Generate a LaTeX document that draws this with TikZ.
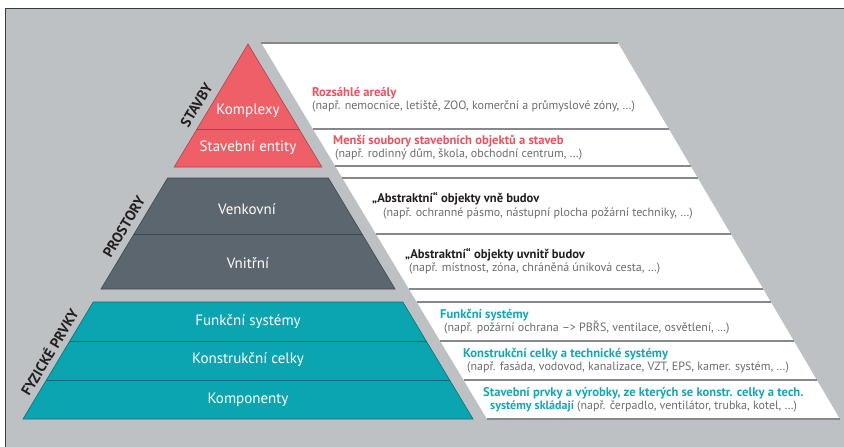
\documentclass[tikz,border=0pt]{standalone}
\usepackage{fontspec}
\setmainfont{PT Sans}
\definecolor{bggrey}{HTML}{BEC1C4}
\definecolor{framecol}{HTML}{3A3A3C}
\definecolor{rowline}{HTML}{86888B}
\definecolor{pyrred}{HTML}{EF5F68}
\definecolor{pyrredd}{HTML}{A9444A}
\definecolor{pyrgrey}{HTML}{5B666E}
\definecolor{pyrgreyd}{HTML}{3D474E}
\definecolor{pyrteal}{HTML}{0AA5B0}
\definecolor{pyrteald}{HTML}{0A6E77}
\definecolor{txtred}{HTML}{E8545E}
\definecolor{txtteal}{HTML}{17A6B3}
\definecolor{txtgrey}{HTML}{6B6D70}
\definecolor{txtdark}{HTML}{231F20}
\begin{document}
\begin{tikzpicture}[x=1pt,y=-1pt,
  rowline/.style={draw=rowline,line width=1.2pt},
  layer/.style={font=\fontsize{15}{17}\selectfont,text=white,inner sep=0pt},
  side/.style={font=\fontsize{14.5}{16}\selectfont\bfseries,text=txtdark,rotate=59,inner sep=0pt},
  head/.style={anchor=west,inner sep=0pt,font=\fontsize{12.6}{14}\selectfont\bfseries},
  note/.style={anchor=west,inner sep=0pt,text=txtgrey,font=\fontsize{12}{14}\selectfont}]
\useasboundingbox (0,0) rectangle (844,447);
\fill[white] (0,0) rectangle (844,447);
\fill[bggrey] (5,8) rectangle (844,447);
\draw[framecol,line width=0.9pt] (5,447) -- (5,8) -- (844,8);

% white slanted band holding the descriptions
\fill[white] (261.4,43) -- (618,43) -- (839.8,419) -- (487,419) -- cycle;
\foreach \y in {43,129,166,178,234,289,302,341,380,419}
  \draw[rowline] ({262+0.6*(\y-44)},\y) -- ({618+0.59*(\y-43)},\y);

% pyramid: buildings
\filldraw[fill=pyrred,draw=pyrredd,line width=0.6pt] (248,44) -- (321.8,167) -- (174.2,167) -- cycle;
\draw[pyrredd,line width=0.9pt] (197,129) -- (299,129);
% pyramid: spaces
\filldraw[fill=pyrgrey,draw=pyrgreyd,line width=0.6pt] (167.6,178) -- (328.4,178) -- (395,289) -- (101,289) -- cycle;
\draw[pyrgreyd,line width=1pt] (134,234) -- (362,234);
% pyramid: physical elements
\filldraw[fill=pyrteal,draw=pyrteald,line width=0.6pt] (93.2,302) -- (402.8,302) -- (473,419) -- (23,419) -- cycle;
\draw[pyrteald,line width=1pt] (69.8,341) -- (426.2,341);
\draw[pyrteald,line width=1pt] (46.4,380) -- (449.6,380);

% layer names
\node[layer] (komplexy) at (248,111) {Komplexy};
\node[layer] (entity) at (248,148) {Stavební entity};
\node[layer] (venkovni) at (247,209) {Venkovní};
\node[layer] (vnitrni) at (248,263) {Vnitřní};
\node[layer] (funkcni) at (248,322) {Funkční systémy};
\node[layer] (konstr) at (248,360) {Konstrukční celky};
\node[layer] (kompon) at (248,400) {Komponenty};

% group names along the left edge
\node[side] (stavby) at (196.5,105) {STAVBY};
\node[side] (prostory) at (124,227) {PROSTORY};
\node[side] (fyzicke) at (49,352) {FYZICKÉ PRVKY};

% descriptions
\node[head,text=txtred] (h1) at (312,93) {Rozsáhlé areály};
\node[note] (n1) at (312,106) {(např. nemocnice, letiště, ZOO, komerční a průmyslové zóny, …)};
\node[head,text=txtred] (h2) at (333,141) {Menší soubory stavebních objektů a staveb};
\node[note] (n2) at (335,154) {(např. rodinný dům, škola, obchodní centrum, …)};
\node[head,text=txtdark] (h3) at (372,199) {„Abstraktní“ objekty vně budov};
\node[note] (n3) at (383,213) {(např. ochranné pásmo, nástupní plocha požární techniky, …)};
\node[head,text=txtdark] (h4) at (405,255) {„Abstraktní“ objekty uvnitř budov};
\node[note] (n4) at (409,268) {(např. místnost, zóna, chráněná úniková cesta, …)};
\node[head,text=txtteal] (h5) at (440,315) {Funkční systémy};
\node[note] (n5) at (444,328) {(např. požární ochrana –> PBŘS, ventilace, osvětlení, …)};
\node[head,text=txtteal] (h6) at (463,354) {Konstrukční celky a technické systémy};
\node[note] (n6) at (467,367) {(např. fasáda, vodovod, kanalizace, VZT, EPS, kamer. systém, …)};
\node[head,text=txtteal] (h7) at (483,393) {Stavební prvky a výrobky, ze kterých se konstr. celky a tech.};
\node[note] (n7) at (490,406) {\textcolor{txtteal}{\bfseries systémy skládají} (např. čerpadlo, ventilátor, trubka, kotel, …)};
\end{tikzpicture}
\end{document}
